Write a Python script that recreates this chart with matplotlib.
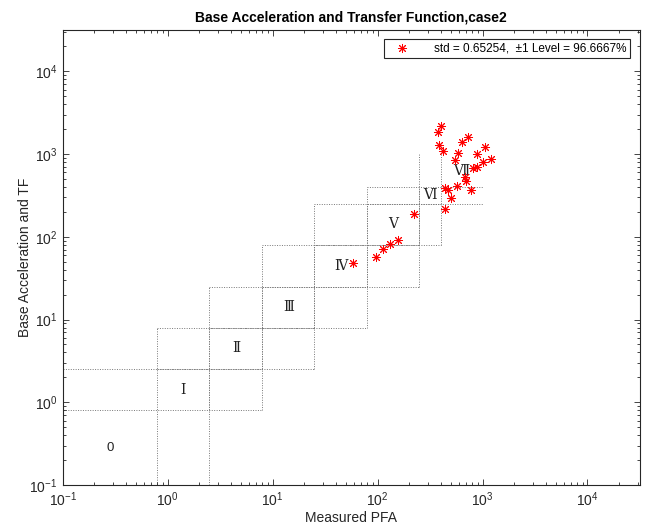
import numpy as np
import matplotlib
matplotlib.use('Agg')
import matplotlib.pyplot as plt

plt.rcParams['font.family'] = ['Liberation Sans', 'DejaVu Sans']
plt.rcParams['mathtext.default'] = 'regular'
plt.rcParams['axes.unicode_minus'] = False

# measured PFA vs base acceleration * TF
pfa = [402, 373, 733, 643, 1047, 389, 421, 586, 884, 1197, 541, 1013, 888, 817,
       679, 702, 569, 435, 464, 770, 499, 440, 222, 155, 132, 112, 97, 58]
est = [2212, 1830, 1623, 1413, 1215, 1292, 1099, 1025, 1006, 875, 851, 800, 706, 675,
       535, 474, 415, 385, 364, 369, 291, 216, 188, 91.7, 82, 70.8, 57.6, 48.8]

# zone bounds and labels
bounds = [0.1, 0.8, 2.5, 8, 25, 80, 250, 400, 1000]
zone_names = ['0', 'Ⅰ', 'Ⅱ', 'Ⅲ', 'Ⅳ', 'Ⅴ', 'Ⅵ', 'Ⅶ']
legend_text = 'std = 0.65254,  \u00b11 Level = 96.6667%'

fig = plt.figure(figsize=(6.51, 5.31), dpi=100)
ax = fig.add_axes([0.0963, 0.0866, 0.8867, 0.857])
ax.set_xscale('log')
ax.set_yscale('log')

# dotted zone boxes
for k in range(1, 7):
    lo, hi = bounds[k], bounds[k + 1]
    a, b = bounds[k - 1], bounds[k + 2]
    for v in (lo, hi):
        ax.plot([a, b], [v, v], color='#777777', lw=0.7, ls=(0, (1, 1.5)), zorder=1)
        ax.plot([v, v], [a, b], color='#777777', lw=0.7, ls=(0, (1, 1.5)), zorder=1)

# zone labels
for k, name in enumerate(zone_names):
    c = np.sqrt(bounds[k] * bounds[k + 1])
    if name == '0':
        ax.text(c, c, name, ha='center', va='center', fontsize=9.5, color='#222222')
    else:
        ax.text(c, c, name, ha='center', va='center', fontsize=10, color='#222222',
                family=['DejaVu Serif', 'Noto Sans CJK SC'])

ax.plot(pfa, est, linestyle='none', marker=(8, 2, 0), color='red', markersize=6.5,
        markeredgewidth=0.7, label=legend_text, zorder=3)

ax.set_xlim(0.1, 10 ** 4.5)
ax.set_ylim(0.1, 10 ** 4.5)
ax.set_xticks([0.1, 1, 10, 100, 1000, 10000])
ax.set_yticks([0.1, 1, 10, 100, 1000, 10000])

ax.tick_params(which='both', direction='in', top=True, right=True, colors='#262626',
               labelsize=10, width=0.6)
ax.tick_params(which='major', length=4, pad=4)
ax.tick_params(which='minor', length=2)
for s in ax.spines.values():
    s.set_color('#262626')
    s.set_linewidth(0.8)

ax.set_title('Base Acceleration and Transfer Function,case2', fontsize=10, fontweight='bold', pad=6)
ax.set_xlabel('Measured PFA', fontsize=10, color='#262626', labelpad=1)
ax.set_ylabel('Base Acceleration and TF', fontsize=10, color='#262626', labelpad=-2)

leg = ax.legend(loc='upper right', fontsize=8.5, fancybox=False, framealpha=1,
                edgecolor='#262626', borderaxespad=0.8, handletextpad=1.5,
                handlelength=2.5, borderpad=0.3)
leg.get_frame().set_linewidth(0.8)

fig.savefig('out.png', dpi=100)
